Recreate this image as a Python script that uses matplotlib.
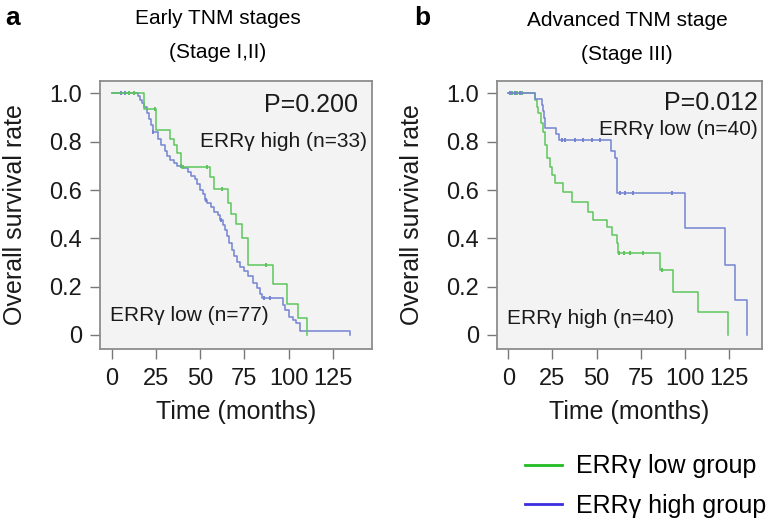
import numpy as np
import matplotlib
matplotlib.use("Agg")
import matplotlib.pyplot as plt
from matplotlib.lines import Line2D

plt.rcParams["font.family"] = ["Liberation Sans", "DejaVu Sans"]

# panel a: early stages
a_green_time = [0, 18, 25, 33, 35, 37, 39, 55.5, 58, 66, 67.5, 70.5, 73.5, 77, 91.5, 99, 105.5, 110.5]
a_green_surv = [1.0, 0.935, 0.85, 0.81, 0.785, 0.755, 0.695, 0.655, 0.605, 0.545, 0.50, 0.46, 0.40, 0.29,
                0.21, 0.13, 0.07, 0.0]
a_blue_time = [0, 15, 16, 17, 18, 20, 21, 22, 23.5, 26, 28, 30, 31.5, 33, 35, 37, 40, 43, 45, 47, 48.5,
               50, 51.5, 53, 54, 56, 58, 60, 61.5, 63, 64, 65, 66.5, 68, 69, 71, 72.5, 75, 77, 80, 82,
               84, 85, 97, 98, 100, 102.5, 104.5, 106.5, 135]
a_blue_surv = [1.0, 0.987, 0.974, 0.96, 0.945, 0.92, 0.895, 0.87, 0.84, 0.81, 0.785, 0.76, 0.74, 0.725,
               0.71, 0.70, 0.69, 0.675, 0.66, 0.645, 0.625, 0.60, 0.585, 0.56, 0.545, 0.53, 0.51, 0.495,
               0.476, 0.455, 0.435, 0.41, 0.38, 0.35, 0.325, 0.30, 0.283, 0.265, 0.245, 0.215, 0.195,
               0.17, 0.152, 0.125, 0.103, 0.076, 0.062, 0.048, 0.018, 0.0]
a_green_cens = [10, 12.5, 24.5, 40.5, 54, 62.5, 87]
a_blue_cens = [5, 7.5, 23.5, 39, 53.5, 62, 86, 89.5]

# panel b: advanced stage
b_green_time = [0, 15, 16, 17, 18.4, 19.9, 20.8, 21.8, 23.6, 24.6, 26.5, 31.2, 35.9, 45.4, 48.2, 55.8,
                58.6, 61.5, 62.4, 86, 93.5, 107.7, 124.7]
b_green_surv = [1.0, 0.972, 0.945, 0.917, 0.876, 0.841, 0.786, 0.731, 0.696, 0.662, 0.628, 0.593, 0.552,
                0.51, 0.476, 0.448, 0.414, 0.379, 0.338, 0.269, 0.179, 0.096, 0.0]
b_blue_time = [0, 15, 19, 19.5, 20, 21, 27, 29, 58, 60.5, 61.5, 100.2, 122.8, 128.5, 135.5]
b_blue_surv = [1.0, 0.975, 0.95, 0.925, 0.90, 0.855, 0.83, 0.807, 0.76, 0.731, 0.586, 0.441, 0.29,
               0.145, 0.0]
b_green_cens = [2, 5, 8, 63, 65.5, 69, 76.5, 87]
b_blue_cens = [1, 3.7, 6.6, 30.3, 32.1, 37.8, 42.5, 47.3, 52, 63.3, 66.1, 70.9, 92.6]

x_ticks = [0, 25, 50, 75, 100, 125]
y_ticks = [0, 0.2, 0.4, 0.6, 0.8, 1.0]
y_labels = ["0", "0.2", "0.4", "0.6", "0.8", "1.0"]

GREEN = "#5cc65c"
BLUE = "#7484d2"


def surv_at(times, surv, t):
    idx = np.searchsorted(times, t, side="right") - 1
    return np.array(surv)[idx]


def draw_panel(ax, curves, xlim):
    for t, s, cens, col in curves:
        ax.step(t, s, where="post", color=col, lw=1.1)
        ax.plot(cens, surv_at(t, s, cens), ls="none", marker="|", ms=3.5, mew=1.4, color=col)
    ax.set_facecolor("#f3f3f3")
    ax.set_xlim(*xlim)
    ax.set_ylim(-0.058, 1.051)
    ax.set_xticks(x_ticks)
    ax.set_yticks(y_ticks)
    ax.set_yticklabels(y_labels)
    ax.tick_params(direction="out", length=7, width=1, color="#777777", labelsize=17,
                   labelcolor="#1a1a1a")
    ax.tick_params(axis="x", pad=7)
    ax.tick_params(axis="y", pad=6)
    for sp in ax.spines.values():
        sp.set_color("#8c8c8c")
        sp.set_linewidth(1.3)
    ax.set_xlabel("Time (months)", fontsize=18, color="#1a1a1a", labelpad=7)
    ax.set_ylabel("Overall survival rate", fontsize=18, color="#1a1a1a", labelpad=16)


fig = plt.figure(figsize=(7.7, 5.22), dpi=100)

ax_a = fig.add_axes([0.1299, 0.3314, 0.3532, 0.5134])
draw_panel(ax_a, [(a_blue_time, a_blue_surv, a_blue_cens, BLUE),
                  (a_green_time, a_green_surv, a_green_cens, GREEN)], (-6.6, 147.2))
ax_a.text(139.3, 0.95, "P=0.200", ha="right", va="center", fontsize=18, color="#1a1a1a")
ax_a.text(144.4, 0.80, "ERRγ high (n=33)", ha="right", va="center", fontsize=15, color="#1a1a1a")
ax_a.text(-1, 0.08, "ERRγ low (n=77)", ha="left", va="center", fontsize=15, color="#1a1a1a")

ax_b = fig.add_axes([0.6455, 0.3314, 0.3442, 0.5134])
draw_panel(ax_b, [(b_green_time, b_green_surv, b_green_cens, GREEN),
                  (b_blue_time, b_blue_surv, b_blue_cens, BLUE)], (-6.4, 143.8))
ax_b.text(141.5, 0.96, "P=0.012", ha="right", va="center", fontsize=18, color="#1a1a1a")
ax_b.text(141.5, 0.85, "ERRγ low (n=40)", ha="right", va="center", fontsize=15, color="#1a1a1a")
ax_b.text(-0.7, 0.07, "ERRγ high (n=40)", ha="left", va="center", fontsize=15, color="#1a1a1a")

# titles and panel letters
fig.text(218 / 770, 1 - 19 / 522, "Early TNM stages", ha="center", va="center", fontsize=15)
fig.text(218 / 770, 1 - 52 / 522, "(Stage I,II)", ha="center", va="center", fontsize=15)
fig.text(627 / 770, 1 - 21 / 522, "Advanced TNM stage", ha="center", va="center", fontsize=15)
fig.text(627 / 770, 1 - 54 / 522, "(Stage III)", ha="center", va="center", fontsize=15)
fig.text(5 / 770, 1 - 18 / 522, "a", ha="left", va="center", fontsize=19, fontweight="bold")
fig.text(414 / 770, 1 - 18 / 522, "b", ha="left", va="center", fontsize=19, fontweight="bold")

handles = [Line2D([], [], color="#22bb22", lw=2), Line2D([], [], color="#3a2ee0", lw=2)]
fig.legend(handles, ["ERRγ low group", "ERRγ high group"], loc="center left",
           bbox_to_anchor=(502 / 770, 1 - 486 / 522), frameon=False, fontsize=18,
           handlelength=1.5, handletextpad=0.55, labelspacing=0.6)

fig.savefig("out.png", dpi=100)
